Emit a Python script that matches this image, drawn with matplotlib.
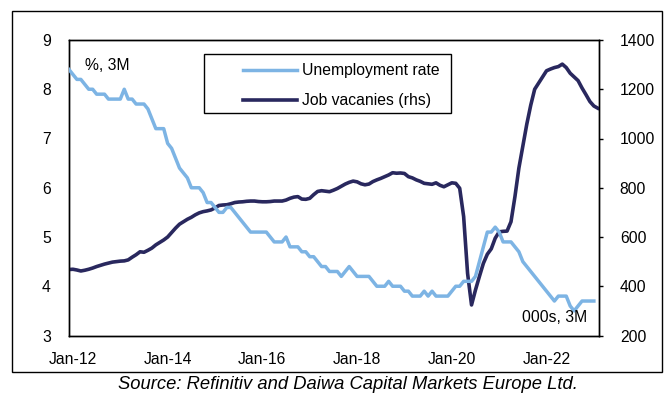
import matplotlib
matplotlib.use("Agg")
import matplotlib.pyplot as plt
from matplotlib.patches import Rectangle
import numpy as np

plt.rcParams['font.family'] = ['Liberation Sans', 'DejaVu Sans']

# Monthly 3M periods, Dec-11 .. Feb-23
start_year, start_month = 2011, 12

unemployment = [
    8.4, 8.3, 8.2, 8.2, 8.1, 8.0, 8.0, 7.9, 7.9, 7.9,
    7.8, 7.8, 7.8, 7.8, 8.0, 7.8, 7.8, 7.7, 7.7, 7.7,
    7.6, 7.4, 7.2, 7.2, 7.2, 6.9, 6.8, 6.6, 6.4, 6.3,
    6.2, 6.0, 6.0, 6.0, 5.9, 5.7, 5.7, 5.6, 5.5, 5.5,
    5.6, 5.6, 5.5, 5.4, 5.3, 5.2, 5.1, 5.1, 5.1, 5.1,
    5.1, 5.0, 4.9, 4.9, 4.9, 5.0, 4.8, 4.8, 4.8, 4.7,
    4.7, 4.6, 4.6, 4.5, 4.4, 4.4, 4.3, 4.3, 4.3, 4.2,
    4.3, 4.4, 4.3, 4.2, 4.2, 4.2, 4.2, 4.1, 4.0, 4.0,
    4.0, 4.1, 4.0, 4.0, 4.0, 3.9, 3.9, 3.8, 3.8, 3.8,
    3.9, 3.8, 3.9, 3.8, 3.8, 3.8, 3.8, 3.9, 4.0, 4.0,
    4.1, 4.1, 4.1, 4.2, 4.5, 4.8, 5.1, 5.1, 5.2, 5.1,
    4.9, 4.9, 4.9, 4.8, 4.7, 4.5, 4.4, 4.3, 4.2, 4.1,
    4.0, 3.9, 3.8, 3.7, 3.8, 3.8, 3.8, 3.6, 3.5, 3.6,
    3.7, 3.7, 3.7, 3.7,
]

vacancies = [
    468, 469, 466, 462, 465, 469, 474, 480, 485, 490,
    494, 498, 500, 502, 503, 507, 518, 528, 540, 538,
    546, 555, 568, 578, 588, 600, 618, 636, 652, 662,
    672, 680, 690, 698, 703, 706, 710, 718, 728, 730,
    731, 735, 740, 742, 743, 745, 746, 746, 744, 743,
    743, 744, 746, 746, 746, 750, 757, 762, 764, 754,
    753, 757, 772, 785, 788, 786, 784, 790, 797, 806,
    815, 822, 827, 824, 816, 812, 815, 825, 832, 838,
    845, 852, 861, 859, 860, 858, 845, 840, 832, 826,
    818, 816, 814, 820, 810, 804, 812, 820, 818, 798,
    683, 452, 324, 385, 440, 493, 530, 552, 595, 621,
    623, 624, 662, 764, 880, 970, 1058, 1135, 1200, 1225,
    1250, 1275, 1282, 1288, 1292, 1302, 1288, 1265, 1250, 1235,
    1205, 1178, 1150, 1132, 1123,
]

tick_labels = ["Jan-12", "Jan-14", "Jan-16", "Jan-18", "Jan-20", "Jan-22"]
tick_months = [1, 25, 49, 73, 97, 121]  # months after Dec-11

light_blue = "#7DB4E4"
navy = "#29285E"

W, H = 667, 394
fig = plt.figure(figsize=(W / 100, H / 100), dpi=100)
fig.patch.set_facecolor("white")

# outer frame
fig.patches.append(Rectangle((11.7 / W, 1 - 372 / H), (662 - 11.7) / W, (372 - 10.7) / H,
                             transform=fig.transFigure, fill=False, edgecolor="black", lw=1.0))

ax = fig.add_axes([69 / W, 1 - 335.5 / H, (599 - 69) / W, (335.5 - 40) / H])
ax2 = ax.twinx()

x_u = np.arange(len(unemployment))
x_v = np.arange(len(vacancies))

l1, = ax.plot(x_u, unemployment, color=light_blue, lw=2.5, solid_joinstyle="round", zorder=3)
l2, = ax2.plot(x_v, vacancies, color=navy, lw=2.6, solid_joinstyle="round", zorder=3)

ax.set_zorder(ax2.get_zorder() + 1)
ax.patch.set_visible(False)

ax.set_xlim(0, 134.3)
ax.set_ylim(3, 9)
ax2.set_ylim(200, 1400)
ax.set_yticks(range(3, 10))
ax2.set_yticks(range(200, 1401, 200))
ax.set_xticks(tick_months)
ax.set_xticklabels(tick_labels)

fs = 11.3
ax.tick_params(axis="x", length=0, pad=12, labelsize=fs)
ax.tick_params(axis="y", length=0, pad=13, labelsize=fs)
ax2.tick_params(axis="y", direction="out", length=3, width=1, pad=12, labelsize=fs)

for a in (ax, ax2):
    for s in a.spines.values():
        s.set_linewidth(1.0)
        s.set_color("black")

ax.text(85 / W, 1 - 66 / H, "%, 3M", transform=fig.transFigure, fontsize=fs,
        ha="left", va="center")
ax.text(587 / W, 1 - 318 / H, "000s, 3M", transform=fig.transFigure, fontsize=fs,
        ha="right", va="center")

# legend frame
fig.patches.append(Rectangle((204 / W, 1 - 113 / H), (451 - 204) / W, (113 - 54) / H,
                             transform=fig.transFigure, fill=False, edgecolor="black", lw=1.0,
                             zorder=5))
leg = ax.legend([l1, l2], ["Unemployment rate", "Job vacanies (rhs)"],
                loc="upper left", bbox_to_anchor=(243 / W, 1 - 63.5 / H),
                bbox_transform=fig.transFigure, frameon=False, fontsize=fs,
                handlelength=54 / 15.7, handletextpad=0.32, borderpad=0,
                borderaxespad=0, labelspacing=0.95)

fig.text(348 / W, 1 - 389 / H, "Source: Refinitiv and Daiwa Capital Markets Europe Ltd.",
         ha="center", va="baseline", fontsize=13.2, style="italic")

fig.savefig("out.png", dpi=100)
